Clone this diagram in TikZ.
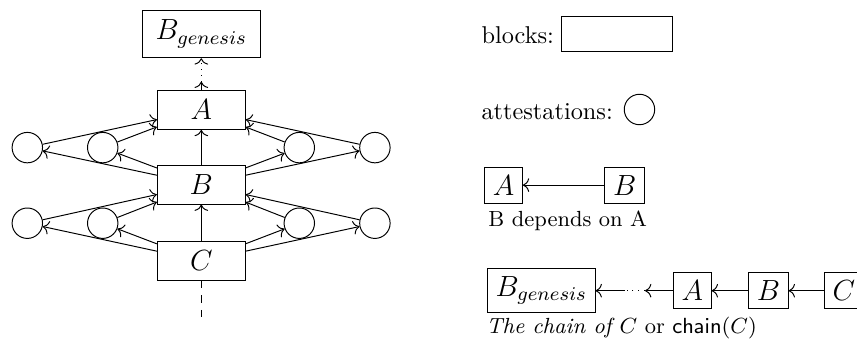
\documentclass[tikz,border=0pt]{standalone}
\usepackage{xcolor}
\usepackage{amsmath}
\usetikzlibrary{arrows,arrows.meta}
\begin{document}
\begin{tikzpicture}[>={Computer Modern Rightarrow[length=2.6pt,width=5.6pt]},sblk/.style={draw,rectangle,font=\large},blk/.style={sblk,minimum width=1.27cm,minimum height=0.56cm},att/.style={draw,circle,minimum size=0.44cm,inner sep=0pt}]
    \useasboundingbox (0,0) rectangle (12.39,4.9);
    \node[blk,minimum width=1.7cm,minimum height=0.69cm](g) at (2.91,4.41){$B_{genesis}$};
    \node[blk](a) at (2.91,3.31){$A$};
    \node[blk](b) at (2.91,2.23){$B$};
    \node[blk](c) at (2.91,1.13){$C$};
    \coordinate (ag) at (2.91,3.72);
    \coordinate (cd) at (2.91,0.25);
    \draw[->] (a) -- (ag);
    \draw[->,dotted] (ag) -- (g);
    \draw[->] (b) -- (a);
    \draw[->] (c) -- (b);
    \draw[dashed] (c) -- (cd);
    \foreach \x/\n in {0.395/1,1.485/2,4.327/3,5.42/4}{
      \node[att](u\n) at (\x,2.766){};
      \node[att](v\n) at (\x,1.673){};
      \draw[->] (u\n) -- (a);
      \draw[->] (b) -- (u\n);
      \draw[->] (v\n) -- (b);
      \draw[->] (c) -- (v\n);
    }
    \node[anchor=base west](lb) at (6.837,4.275){blocks:};
    \node[sblk,minimum width=1.6cm,minimum height=0.5cm](lbox) at (8.92,4.406){};
    \node[anchor=base west](la) at (6.837,3.175){attestations:};
    \node[att](lc) at (9.245,3.317){};
    \node[sblk](da) at (7.28,2.224){$A$};
    \node[sblk](db) at (9.03,2.224){$B$};
    \draw[->] (db) -- (da);
    \node[anchor=base west,font=\small](dt) at (6.938,1.623){B depends on A};
    \node[sblk](cg) at (7.826,0.697){$B_{genesis}$};
    \node[sblk](ca) at (10.01,0.697){$A$};
    \node[sblk](cb) at (11.11,0.697){$B$};
    \node[sblk](cc) at (12.20,0.697){$C$};
    \coordinate (m1) at (9.036,0.697);
    \coordinate (m2) at (9.325,0.697);
    \draw[->] (ca) -- (m2);
    \draw[dotted] (m2) -- (m1);
    \draw[->] (m1) -- (cg);
    \draw[->] (cb) -- (ca);
    \draw[->] (cc) -- (cb);
    \node[anchor=base west,font=\small](cap) at (6.909,0.072){\textit{The chain of $C$} or $\mathsf{chain}(C)$};
  \end{tikzpicture}
\end{document}
